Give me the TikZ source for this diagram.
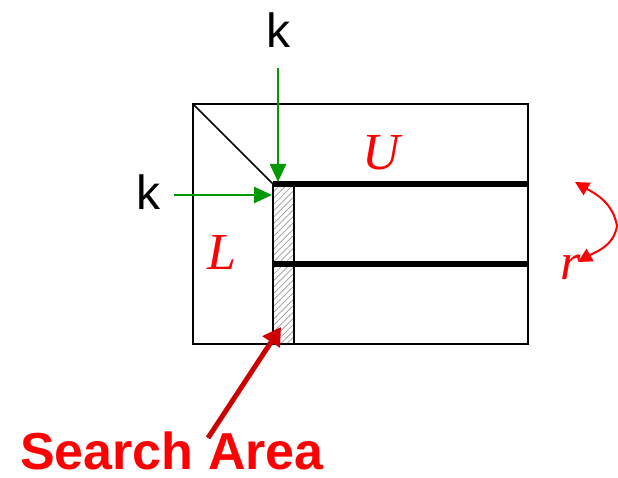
\documentclass[tikz,border=0pt]{standalone}
\usepackage{fontspec}
\setmainfont{Liberation Serif}
\setsansfont{Liberation Sans}
\usetikzlibrary{patterns.meta,arrows.meta}
\definecolor{kgreen}{HTML}{009900}
\definecolor{dred}{HTML}{CC0000}
\tikzset{
  thinbox/.style={draw=black,line width=1.5pt},
  bar/.style={draw=black,line width=6pt},
  garrow/.style={draw=kgreen,line width=2.5pt,-{Triangle[length=18pt,width=16pt]}},
  rarrow/.style={draw=red,line width=2pt,-{Triangle[length=14pt,width=14pt]}},
  darrow/.style={draw=dred,line width=5pt,-{Triangle[length=18pt,width=20pt]}},
  klabel/.style={font=\sffamily\fontsize{48}{48}\selectfont,inner sep=0pt},
  mlabel/.style={text=red,font=\itshape\fontsize{52}{52}\selectfont,inner sep=0pt},
}
\begin{document}
\begin{tikzpicture}[x=1pt,y=-1pt]
\useasboundingbox (0,0) rectangle (618,478);
% outer box
\draw[thinbox] (193,104) rectangle (528,344);
\draw[line width=1.5pt] (193,104) -- (273,184);
% hatched strip
\path[pattern={Lines[angle=45,distance=4.5pt,line width=0.7pt]},pattern color=gray!80] (273,184) rectangle (294,344);
\draw[line width=2.5pt] (273,184) rectangle (294,344);
% thick bars
\draw[bar] (273,184) -- (528,184);
\draw[bar] (273,264) -- (528,264);
% corner coordinates
\coordinate (ctop) at (278,182);
\coordinate (cleft) at (272,195);
\coordinate (gtop) at (278,68);
\coordinate (gleft) at (174,195);
\draw[garrow] (gtop) -- (ctop);
\draw[garrow] (gleft) -- (cleft);
\node[klabel] (k1) at (278,30) {k};
\node[klabel] (k2) at (148,192) {k};
% labels
\node[mlabel] (U) at (381,153) {U};
\node[mlabel] (L) at (222,252) {L};
\node[mlabel] (r) at (571,267) {r};
% r arrows
\coordinate (rmid) at (617,226);
\coordinate (rtop) at (575,182);
\coordinate (rbot) at (578,262);
\draw[rarrow] (rmid) to[out=100,in=-30] (rtop);
\draw[rarrow] (rmid) to[out=-100,in=30] (rbot);
% search area
\node[text=red,font=\sffamily\bfseries\fontsize{52}{52}\selectfont,inner sep=0pt,anchor=base] (sa) at (172,469) {Search Area};
\coordinate (satip) at (281,327);
\coordinate (sastart) at (208,438);
\draw[darrow] (sastart) -- (satip);
\end{tikzpicture}
\end{document}
